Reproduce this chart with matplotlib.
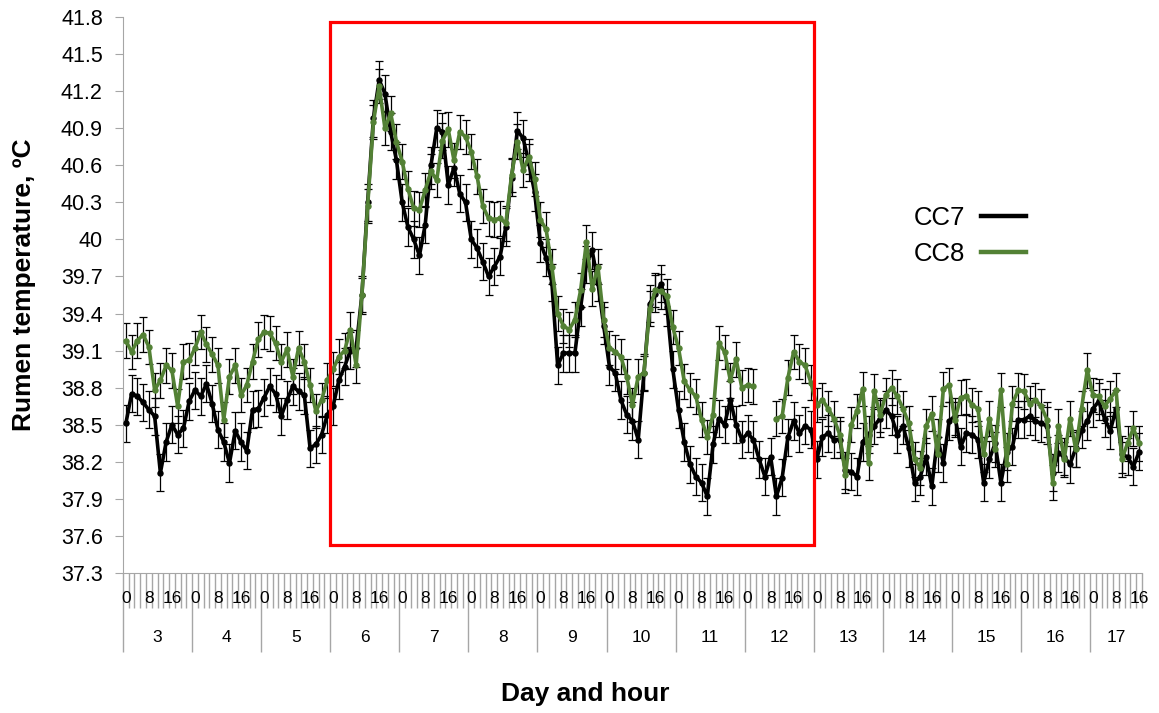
import numpy as np
import matplotlib.pyplot as plt
import matplotlib.transforms as mtransforms
from matplotlib.patches import Rectangle
from matplotlib.lines import Line2D

plt.rcParams['font.family'] = ['Liberation Sans', 'DejaVu Sans']

# category axis: days 3..17, readings every 2 h (last day stops at 16 h)
days = list(range(3, 18))
hours = list(range(0, 24, 2))
last_hour = 16
hour_labels = [0, 8, 16]

# mean rumen temperature (ºC), one value per 2-h slot
cc7 = [
    38.51, 38.75, 38.73, 38.68, 38.62, 38.57, 38.11, 38.36, 38.50, 38.42, 38.47, 38.69,  # day 3
    38.78, 38.73, 38.83, 38.67, 38.46, 38.36, 38.19, 38.45, 38.36, 38.29, 38.62, 38.63,  # day 4
    38.72, 38.81, 38.75, 38.57, 38.70, 38.81, 38.77, 38.74, 38.31, 38.34, 38.42, 38.58,  # day 5
    38.65, 38.86, 38.97, 39.10, 39.12, 39.55, 40.30, 40.98, 41.29, 41.18, 40.87, 40.64,  # day 6
    40.30, 40.10, 40.00, 39.87, 40.12, 40.60, 40.90, 40.87, 40.44, 40.58, 40.37, 40.30,  # day 7
    40.00, 39.93, 39.82, 39.70, 39.78, 39.86, 40.10, 40.50, 40.88, 40.82, 40.62, 40.38,  # day 8
    39.97, 39.85, 39.65, 38.98, 39.08, 39.08, 39.08, 39.45, 39.80, 39.91, 39.65, 39.30,  # day 9
    38.97, 38.92, 38.70, 38.58, 38.53, 38.38, 38.92, 39.48, 39.56, 39.64, 39.45, 38.95,  # day 10
    38.62, 38.36, 38.18, 38.08, 38.03, 37.92, 38.34, 38.55, 38.50, 38.70, 38.50, 38.38,  # day 11
    38.43, 38.38, 38.22, 38.08, 38.24, 37.92, 38.07, 38.40, 38.53, 38.43, 38.49, 38.46,  # day 12
    38.22, 38.40, 38.43, 38.38, 38.38, 38.13, 38.12, 38.08, 38.36, 38.42, 38.49, 38.55,  # day 13
    38.62, 38.57, 38.42, 38.49, 38.31, 38.03, 38.08, 38.24, 38.00, 38.40, 38.19, 38.53,  # day 14
    38.57, 38.32, 38.43, 38.42, 38.38, 38.03, 38.22, 38.35, 38.03, 38.28, 38.32, 38.54,  # day 15
    38.54, 38.57, 38.53, 38.51, 38.49, 38.11, 38.27, 38.24, 38.18, 38.31, 38.46, 38.53,  # day 16
    38.63, 38.69, 38.55, 38.45, 38.63, 38.26, 38.24, 38.16, 38.28,                       # day 17
]
cc8 = [
    39.18, 39.09, 39.18, 39.23, 39.13, 38.78, 38.86, 38.98, 38.94, 38.65, 39.01, 39.02,  # day 3
    39.12, 39.25, 39.15, 39.07, 38.98, 38.54, 38.89, 38.98, 38.74, 38.82, 39.01, 39.19,  # day 4
    39.25, 39.24, 39.16, 39.01, 39.11, 38.89, 39.12, 39.01, 38.82, 38.61, 38.70, 38.86,  # day 5
    38.95, 39.05, 39.10, 39.27, 38.98, 39.55, 40.27, 40.95, 41.24, 40.90, 41.02, 40.79,  # day 6
    40.63, 40.41, 40.25, 40.24, 40.40, 40.55, 40.48, 40.80, 40.89, 40.64, 40.87, 40.83,  # day 7
    40.71, 40.51, 40.27, 40.17, 40.16, 40.17, 40.13, 40.52, 40.79, 40.56, 40.67, 40.49,  # day 8
    40.16, 40.08, 39.78, 39.40, 39.30, 39.27, 39.35, 39.59, 39.98, 39.60, 39.78, 39.35,  # day 9
    39.12, 39.09, 39.05, 38.89, 38.66, 38.89, 38.92, 39.44, 39.59, 39.58, 39.54, 39.29,  # day 10
    39.12, 38.85, 38.78, 38.73, 38.54, 38.40, 38.58, 39.16, 39.09, 38.86, 39.03, 38.80,  # day 11
    38.82, 38.81, np.nan, np.nan, np.nan, 38.55, 38.57, 38.88, 39.09, 39.01, 38.98, 38.84,  # day 12
    38.66, 38.70, 38.63, 38.55, 38.42, 38.09, 38.50, 38.61, 38.79, 38.19, 38.77, 38.58,  # day 13
    38.74, 38.80, 38.73, 38.63, 38.51, 38.22, 38.15, 38.49, 38.59, 38.26, 38.79, 38.82,  # day 14
    38.54, 38.72, 38.73, 38.66, 38.63, 38.26, 38.55, 38.30, 38.78, 38.18, 38.67, 38.78,  # day 15
    38.77, 38.67, 38.70, 38.65, 38.54, 38.03, 38.49, 38.22, 38.55, 38.30, 38.63, 38.94,  # day 16
    38.74, 38.73, 38.65, 38.71, 38.78, 38.22, 38.35, 38.47, 38.35,                       # day 17
]
cc7_sem = 0.15
cc8_sem = 0.14

# highlighted period: days 6 to 12
box_days = (6, 12)

green = '#538135'
grey = '#a6a6a6'

cats = [(d, h) for d in days for h in hours if not (d == days[-1] and h > last_hour)]
x = np.arange(len(cats))

fig, ax = plt.subplots(figsize=(11.59, 7.13), dpi=100)
fig.subplots_adjust(left=0.1061, right=0.9853, top=0.9762, bottom=0.1964)

ax.errorbar(x, cc7, yerr=cc7_sem, fmt='none', ecolor='black', elinewidth=0.9,
            capsize=3, capthick=0.9, zorder=2)
ax.errorbar(x, cc8, yerr=cc8_sem, fmt='none', ecolor='black', elinewidth=0.9,
            capsize=3, capthick=0.9, zorder=2)
ax.plot(x, cc7, color='black', lw=2.6, marker='o', ms=3.6, zorder=3)
ax.plot(x, cc8, color=green, lw=2.6, marker='o', ms=3.6, zorder=4)

ax.set_xlim(-0.5, len(cats) - 0.5)
ax.set_ylim(37.3, 41.8)

yt = np.round(np.arange(37.3, 41.81, 0.3), 1)
ax.set_yticks(yt)
ax.set_yticklabels([f'{v:g}' for v in yt])
ax.tick_params(axis='y', direction='out', length=5.5, color=grey, labelsize=15.5, pad=9)

# category boundaries: short ticks every slot, long ticks between days
day_starts = [i - 0.5 for i, (d, h) in enumerate(cats) if h == 0]
ax.set_xticks(day_starts)
ax.set_xticks(np.arange(len(cats) + 1) - 0.5, minor=True)
ax.tick_params(axis='x', which='major', length=57, width=1, color=grey, labelbottom=False)
ax.tick_params(axis='x', which='minor', length=25, width=1, color=grey, labelbottom=False)

for side in ['top', 'right']:
    ax.spines[side].set_visible(False)
for side in ['left', 'bottom']:
    ax.spines[side].set_color(grey)

trans = mtransforms.blended_transform_factory(ax.transData, ax.transAxes)
for i, (d, h) in enumerate(cats):
    if h in hour_labels:
        ax.text(i, -0.046, str(h), transform=trans, ha='center', va='center', fontsize=12.5)
for d in days:
    idx = [i for i, (dd, h) in enumerate(cats) if dd == d]
    ax.text((idx[0] + idx[-1]) / 2, -0.116, str(d), transform=trans,
            ha='center', va='center', fontsize=12.5)

fig.text(0.505, 0.027, 'Day and hour', ha='center', va='center',
         fontsize=19, fontweight='bold')
fig.text(0.021, 0.600, 'Rumen temperature, ºC', ha='center', va='center',
         rotation=90, fontsize=19, fontweight='bold')

# red frame around the hot period
x0 = [i for i, (d, h) in enumerate(cats) if d == box_days[0]][0] - 0.5
x1 = [i for i, (d, h) in enumerate(cats) if d == box_days[1]][-1] + 0.5
ax.add_patch(Rectangle((x0, 37.53), x1 - x0, 41.76 - 37.53, fill=False,
                       edgecolor='#ff0000', lw=2.3, clip_on=False, zorder=5))

handles = [Line2D([], [], color='black', lw=3.2), Line2D([], [], color=green, lw=3.2)]
ax.legend(handles, ['CC7', 'CC8'], loc='center', bbox_to_anchor=(970 / 1159, 1 - 236 / 713),
          bbox_transform=fig.transFigure, frameon=False, markerfirst=False, fontsize=18.5,
          handlelength=1.75, handletextpad=0.6, labelspacing=0.5)

fig.savefig('out.png', dpi=100)
